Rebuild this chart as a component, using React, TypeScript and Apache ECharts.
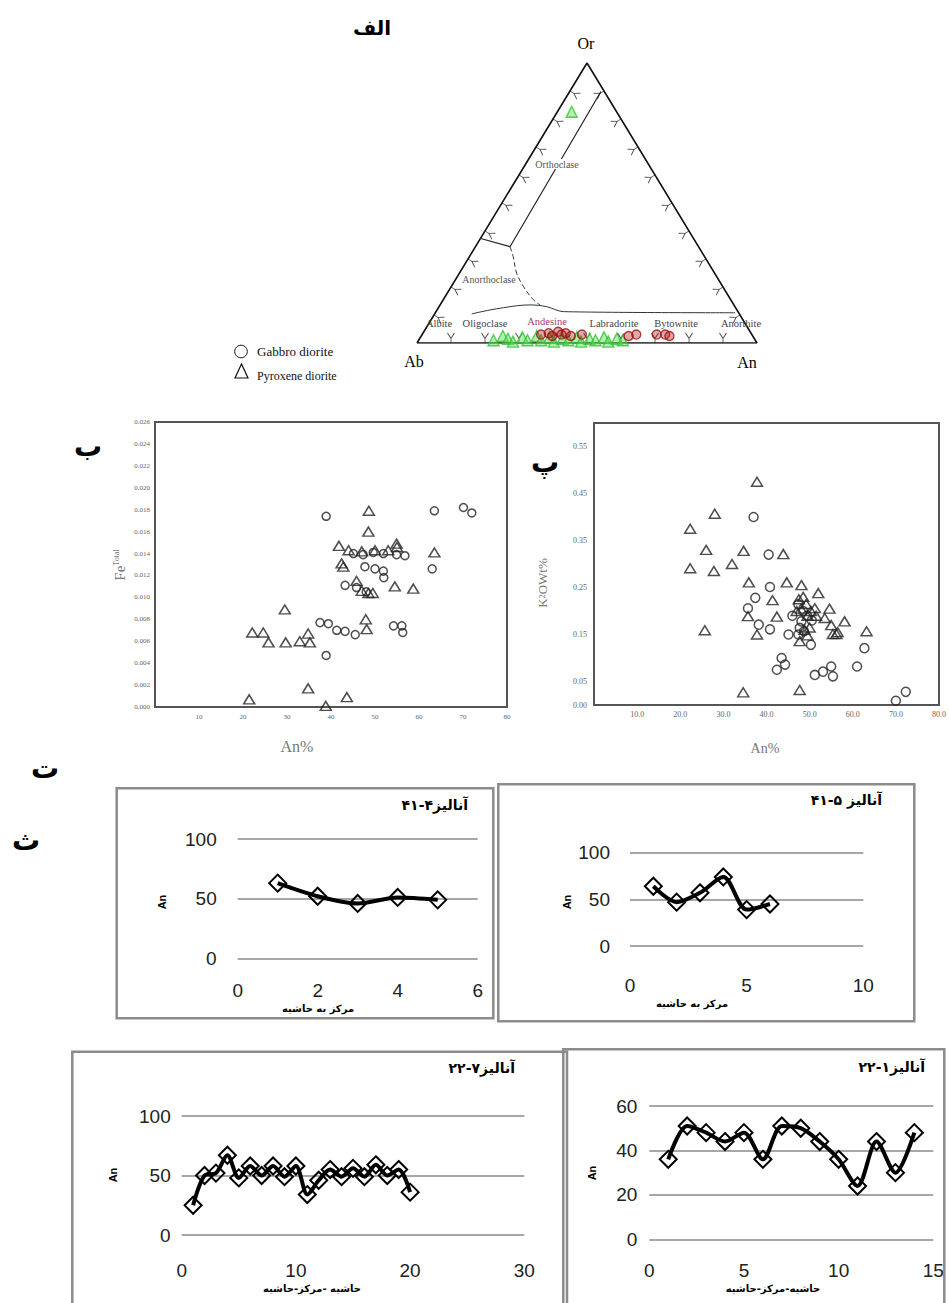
import React, { useEffect, useRef } from "react";
import * as echarts from "echarts";

// ---------- Ternary (الف) : [An%, Or%] ----------
const ternaryPyroxene: number[][] = [
  [4.2, 82.6], [22, 1], [24, 2.5], [26, 1.5], [28, 0.5], [30, 2], [32, 1], [34, 2.5],
  [36, 1], [38, 2], [40, 0.5], [42, 1.5], [44, 1], [46, 2], [48, 0.5], [50, 1.5],
  [52, 1], [54, 2], [56, 0.5], [58, 1.5], [60, 1],
];
const ternaryGabbro: number[][] = [
  [35, 3], [37, 3.5], [38.5, 2.5], [39.5, 4], [41, 3], [42, 3.5], [44, 2.5], [47, 3],
  [61, 2.5], [63, 3], [69, 3], [71.5, 3], [73, 2.5],
];
// field boundaries in (u, v) triangle coordinates
const orthoclaseBoundary = [[0.541, 0.898], [0.2735, 0.344], [0.185, 0.374]];
const anorthoclaseBoundary = [[0.2735, 0.344], [0.283, 0.308], [0.293, 0.25], [0.313, 0.202], [0.342, 0.155], [0.362, 0.136]];
const plagioclaseBoundary = [[0.161, 0.104], [0.215, 0.118], [0.293, 0.133], [0.332, 0.136], [0.381, 0.13], [0.43, 0.112], [0.935, 0.108]];
const ternaryTicks = [0.1, 0.2, 0.3, 0.4, 0.5, 0.6, 0.7, 0.8, 0.9];

// ---------- Scatter ب : [An%, FeTotal] ----------
const feGabbro: number[][] = [
  [38.9, 0.0174], [63.5, 0.0179], [70.1, 0.0182], [72.0, 0.0177], [63.0, 0.0126],
  [45.1, 0.014], [47.3, 0.0139], [49.6, 0.0141], [51.9, 0.014], [54.9, 0.0139], [56.8, 0.0138],
  [47.7, 0.0128], [50.0, 0.0126], [51.9, 0.0124], [52.0, 0.0118],
  [43.2, 0.0111], [45.8, 0.0109], [48.0, 0.0105],
  [37.5, 0.0077], [39.4, 0.0076], [41.3, 0.007], [43.2, 0.0069], [45.5, 0.0066],
  [54.2, 0.0074], [56.1, 0.0074], [56.3, 0.0068], [38.9, 0.0047],
];
const fePyroxene: number[][] = [
  [48.6, 0.0179], [48.5, 0.016], [41.8, 0.0147], [54.9, 0.0149], [42.4, 0.0131], [42.8, 0.0128],
  [63.5, 0.0141], [54.5, 0.011], [58.7, 0.0108], [45.8, 0.0115], [47.0, 0.0106], [48.5, 0.0104],
  [49.5, 0.0104], [29.5, 0.0089], [22.1, 0.0068], [24.6, 0.0068], [25.8, 0.0059], [29.7, 0.0059],
  [32.9, 0.006], [34.8, 0.0067], [35.2, 0.0059], [47.9, 0.008], [48.1, 0.0071], [21.4, 0.0007],
  [34.8, 0.0017], [43.6, 0.0009], [38.8, 0.0001], [44, 0.0143], [47, 0.0142], [50, 0.0143],
  [53, 0.0143], [55, 0.0146],
];

// ---------- Scatter پ : [An%, K2O Wt%] ----------
const kPyroxene: number[][] = [
  [37.8, 0.475], [28.0, 0.407], [22.3, 0.375], [26.0, 0.33], [34.7, 0.328], [43.9, 0.321],
  [22.3, 0.291], [27.8, 0.285], [32.0, 0.3], [35.9, 0.261], [44.7, 0.261], [48.1, 0.255],
  [52.0, 0.238], [41.4, 0.223], [54.6, 0.205], [35.7, 0.189], [42.4, 0.188], [58.1, 0.178],
  [63.2, 0.157], [25.7, 0.159], [37.8, 0.15], [55.4, 0.151], [56.2, 0.151], [51.2, 0.206],
  [51.5, 0.19], [47.7, 0.136], [34.6, 0.027], [47.7, 0.032], [47.5, 0.225], [48.5, 0.23],
  [49.2, 0.215], [48, 0.205], [49.5, 0.19], [50.3, 0.2], [47, 0.2], [50, 0.165], [48.8, 0.16],
  [49.5, 0.148], [53.5, 0.185], [55, 0.17], [56.5, 0.155],
];
const kGabbro: number[][] = [
  [37.0, 0.4], [40.5, 0.32], [40.8, 0.251], [37.4, 0.228], [35.7, 0.206], [38.2, 0.171],
  [40.8, 0.161], [45.1, 0.15], [47.4, 0.15], [50.3, 0.128], [62.7, 0.121], [43.5, 0.1],
  [44.3, 0.086], [42.4, 0.075], [51.2, 0.064], [53.1, 0.071], [55.0, 0.082], [55.4, 0.061],
  [61.0, 0.082], [70.0, 0.009], [72.3, 0.028], [47.4, 0.214], [48.5, 0.2], [49.4, 0.19],
  [48.1, 0.178], [47.7, 0.164], [48.7, 0.157], [50.5, 0.18], [46, 0.19],
];

// ---------- Line charts : An along traverse ----------
const an41_4 = [63, 52, 46, 51, 49];
const an41_5 = [64, 47, 57, 74, 39, 45];
const an22_7 = [25, 50, 52, 67, 48, 58, 50, 58, 49, 58, 34, 46, 55, 49, 56, 49, 59, 50, 55, 36];
const an22_1 = [36, 51, 48, 44, 48, 36, 51, 50, 44, 36, 24, 44, 30, 48];

const FA = '"DejaVu Sans", sans-serif';
const SERIF = '"Liberation Serif", "DejaVu Serif", serif';
const SANS = '"Liberation Sans", Arial, sans-serif';

const tern = (p: number[]) => [p[0] / 100 + p[1] / 200, p[1] / 100];

function txt(x: number, y: number, text: string, size: number, opts: any = {}) {
  return {
    type: "text",
    x,
    y,
    rotation: opts.rotation || 0,
    z: 50,
    style: {
      text,
      fontSize: size,
      fontFamily: opts.family || FA,
      fontWeight: opts.weight || "normal",
      fill: opts.color || "#000",
      align: opts.align || "center",
      verticalAlign: "middle",
      backgroundColor: opts.bg,
      rich: opts.rich,
    },
  };
}

export default function App() {
  const ref = useRef<HTMLDivElement>(null);
  useEffect(() => {
    if (!ref.current) return;
    const chart = echarts.init(ref.current, undefined, { renderer: "svg" });

    const lineGrids = [
      { left: 237.7, top: 839, width: 240, height: 119.3 },
      { left: 630, top: 852.7, width: 233.3, height: 93.3 },
      { left: 181.7, top: 1116, width: 342.6, height: 119 },
      { left: 649.3, top: 1106, width: 284, height: 133.3 },
    ];
    const lineSpecs = [
      { data: an41_4, xmax: 6, xint: 2, ymax: 100, yint: 50, xm: 23, ym: 21 },
      { data: an41_5, xmax: 10, xint: 5, ymax: 100, yint: 50, xm: 30, ym: 20 },
      { data: an22_7, xmax: 30, xint: 10, ymax: 100, yint: 50, xm: 26, ym: 11 },
      { data: an22_1, xmax: 15, xint: 5, ymax: 60, yint: 20, xm: 22, ym: 12 },
    ];

    const grid: any[] = [
      { left: 417, top: 63, width: 340, height: 280 },
      { left: 155, top: 422, width: 352, height: 285, show: true, borderColor: "#555", borderWidth: 2 },
      { left: 594, top: 423, width: 347, height: 282, show: true, borderColor: "#555", borderWidth: 2 },
      ...lineGrids,
    ];

    const xAxis: any[] = [
      { gridIndex: 0, type: "value", min: 0, max: 1, show: false },
      {
        gridIndex: 1, type: "value", min: 0, max: 80, interval: 10,
        axisLine: { show: false }, axisTick: { show: false }, splitLine: { show: false },
        axisLabel: { fontSize: 7, color: "#666", margin: 6, fontFamily: SERIF, formatter: (v: number) => (v === 0 ? "" : String(v)) },
      },
      {
        gridIndex: 2, type: "value", min: 0, max: 80, interval: 10,
        axisLine: { show: false }, axisTick: { show: false }, splitLine: { show: false },
        axisLabel: { fontSize: 8, color: "#666", margin: 5, fontFamily: SERIF, formatter: (v: number) => (v === 0 ? "" : v.toFixed(1)) },
      },
      ...lineSpecs.map((s, i) => ({
        gridIndex: 3 + i, type: "value", min: 0, max: s.xmax, interval: s.xint,
        axisLine: { show: false }, axisTick: { show: false }, splitLine: { show: false },
        axisLabel: { fontSize: 19, color: "#222", margin: s.xm, fontFamily: SANS },
      })),
    ];
    const yAxis: any[] = [
      { gridIndex: 0, type: "value", min: 0, max: 1, show: false },
      {
        gridIndex: 1, type: "value", min: 0, max: 0.026, interval: 0.002,
        axisLine: { show: false }, axisTick: { show: false }, splitLine: { show: false },
        axisLabel: { fontSize: 7, color: "#666", margin: 5, fontFamily: SERIF, formatter: (v: number) => v.toFixed(3) },
      },
      {
        gridIndex: 2, type: "value", min: 0, max: 0.6, interval: 0.05,
        axisLine: { show: false }, axisTick: { show: false }, splitLine: { show: false },
        axisLabel: {
          fontSize: 8, color: "#666", margin: 7, fontFamily: SERIF,
          formatter: (v: number) => {
            const k = Math.round(v / 0.05);
            return k === 0 || k % 2 === 1 ? v.toFixed(2) : "";
          },
        },
      },
      ...lineSpecs.map((s, i) => ({
        gridIndex: 3 + i, type: "value", min: 0, max: s.ymax, interval: s.yint,
        axisLine: { show: false }, axisTick: { show: false },
        splitLine: { show: true, lineStyle: { color: "#8a8a8a", width: 1.6 } },
        axisLabel: { fontSize: 19, color: "#222", margin: s.ym, fontFamily: SANS },
      })),
    ];

    const tickSym = "path://M0,0 L4,6 L8,0 M4,6 L4,11";
    const tickData: any[] = [];
    ternaryTicks.forEach((t) => {
      tickData.push({ value: [t, 0], symbolRotate: 0, symbolOffset: [0, -5] });
      tickData.push({ value: [t / 2, t], symbolRotate: -121.3, symbolOffset: [4.3, 2.6] });
      tickData.push({ value: [1 - t / 2, t], symbolRotate: 121.3, symbolOffset: [-4.3, 2.6] });
    });

    const hollow = { color: "rgba(255,255,255,0)", borderColor: "#222", borderWidth: 1.5 };

    const series: any[] = [
      {
        type: "line", xAxisIndex: 0, yAxisIndex: 0, data: [[0, 0], [0.5, 1], [1, 0], [0, 0]],
        symbol: "none", lineStyle: { color: "#111", width: 1.6 }, silent: true,
      },
      {
        type: "line", xAxisIndex: 0, yAxisIndex: 0, data: orthoclaseBoundary,
        symbol: "none", lineStyle: { color: "#222", width: 1.2 },
      },
      {
        type: "line", xAxisIndex: 0, yAxisIndex: 0, data: anorthoclaseBoundary, smooth: 0.4,
        symbol: "none", lineStyle: { color: "#333", width: 1, type: [5, 3] },
      },
      {
        type: "line", xAxisIndex: 0, yAxisIndex: 0, data: plagioclaseBoundary, smooth: 0.3,
        symbol: "none", lineStyle: { color: "#333", width: 1 },
      },
      {
        type: "scatter", xAxisIndex: 0, yAxisIndex: 0, data: tickData, symbol: tickSym, symbolSize: [7, 10],
        itemStyle: { color: "none", borderColor: "#222", borderWidth: 1 }, z: 3,
      },
      {
        type: "scatter", xAxisIndex: 0, yAxisIndex: 0, data: ternaryPyroxene.map(tern), symbol: "triangle", symbolSize: 11,
        itemStyle: { color: "rgba(90,225,90,0.6)", borderColor: "#33c033", borderWidth: 1.4 }, z: 4,
      },
      {
        type: "scatter", xAxisIndex: 0, yAxisIndex: 0, data: ternaryGabbro.map(tern), symbol: "circle", symbolSize: 9,
        itemStyle: { color: "rgba(170,20,20,0.45)", borderColor: "#991111", borderWidth: 1.4 }, z: 5,
      },
      {
        type: "scatter", xAxisIndex: 1, yAxisIndex: 1, data: feGabbro, symbol: "circle", symbolSize: 8, itemStyle: hollow,
      },
      {
        type: "scatter", xAxisIndex: 1, yAxisIndex: 1, data: fePyroxene, symbol: "triangle", symbolSize: [11, 9], itemStyle: hollow,
      },
      {
        type: "scatter", xAxisIndex: 2, yAxisIndex: 2, data: kGabbro, symbol: "circle", symbolSize: 9, itemStyle: hollow,
      },
      {
        type: "scatter", xAxisIndex: 2, yAxisIndex: 2, data: kPyroxene, symbol: "triangle", symbolSize: [11, 9], itemStyle: hollow,
      },
      ...lineSpecs.map((s, i) => ({
        type: "line", xAxisIndex: 3 + i, yAxisIndex: 3 + i,
        data: s.data.map((v, k) => [k + 1, v]),
        smooth: 0.3, symbol: "diamond", symbolSize: 17,
        lineStyle: { color: "#000", width: 4 },
        itemStyle: { color: "rgba(255,255,255,0)", borderColor: "#000", borderWidth: 2 },
      })),
    ];

    const boxStyle = { fill: "none", stroke: "#8c8c8c", lineWidth: 2.5 };
    const graphic: any[] = [
      { type: "rect", shape: { x: 116.7, y: 788.3, width: 376.6, height: 230 }, style: boxStyle, z: 1 },
      { type: "rect", shape: { x: 498.3, y: 784.3, width: 416, height: 237 }, style: boxStyle, z: 1 },
      { type: "rect", shape: { x: 72.3, y: 1051.7, width: 494.7, height: 270 }, style: boxStyle, z: 1 },
      { type: "rect", shape: { x: 563.3, y: 1049.3, width: 381, height: 270 }, style: boxStyle, z: 1 },
      // panel letters
      txt(372, 28, "الف", 20, { weight: "bold" }),
      txt(88, 446, "ب", 28, { weight: "bold" }),
      txt(545, 462, "پ", 28, { weight: "bold" }),
      txt(45, 768, "ت", 28, { weight: "bold" }),
      txt(26, 840, "ث", 28, { weight: "bold" }),
      // ternary labels
      txt(586, 43, "Or", 16, { family: SERIF }),
      txt(414, 361, "Ab", 16, { family: SERIF }),
      txt(747, 362, "An", 16, { family: SERIF }),
      txt(557, 164, "Orthoclase", 10, { family: SERIF, color: "#555", bg: "#fff" }),
      txt(489, 279, "Anorthoclase", 10, { family: SERIF, color: "#555" }),
      txt(439, 323, "Albite", 10.5, { family: SERIF, color: "#444" }),
      txt(485, 323, "Oligoclase", 10.5, { family: SERIF, color: "#444" }),
      txt(547, 321, "Andesine", 10.5, { family: SERIF, color: "#a04070" }),
      txt(614, 323, "Labradorite", 10.5, { family: SERIF, color: "#444" }),
      txt(676, 323, "Bytownite", 10.5, { family: SERIF, color: "#444" }),
      txt(741, 323, "Anorthite", 10.5, { family: SERIF, color: "#444" }),
      // legend
      { type: "circle", shape: { cx: 241, cy: 351.5, r: 6.3 }, style: { fill: "#fff", stroke: "#111", lineWidth: 1 }, z: 50 },
      { type: "polygon", shape: { points: [[241.5, 364], [235, 378], [248, 378]] }, style: { fill: "#fff", stroke: "#111", lineWidth: 1.2 }, z: 50 },
      txt(257, 351.5, "Gabbro diorite", 13, { family: SERIF, align: "left", color: "#111" }),
      txt(257, 376, "Pyroxene diorite", 12, { family: SERIF, align: "left", color: "#111" }),
      // scatter axis names
      txt(120, 565, "{a|Fe}{b|Total}", 14, {
        rotation: Math.PI / 2, family: SERIF, color: "#777",
        rich: { a: { fontSize: 15, fontFamily: SERIF, fill: "#777" }, b: { fontSize: 8, fontFamily: SERIF, fill: "#777", padding: [0, 0, 8, 0] } },
      }),
      txt(297, 746, "An%", 16, { family: SERIF, color: "#777" }),
      txt(542, 583, "{a|K}{b|2}{a|OWt%}", 13, {
        rotation: Math.PI / 2, family: SERIF, color: "#777",
        rich: { a: { fontSize: 13, fontFamily: SERIF, fill: "#777" }, b: { fontSize: 8, fontFamily: SERIF, fill: "#777" } },
      }),
      txt(765, 748, "An%", 14, { family: SERIF, color: "#777" }),
      // line chart titles
      txt(468, 805, "آنالیز۴-۴۱", 14, { align: "right", weight: "bold" }),
      txt(882, 800, "آنالیز ۵-۴۱", 14, { align: "right", weight: "bold" }),
      txt(515, 1068, "آنالیز۷-۲۲", 14, { align: "right", weight: "bold" }),
      txt(925, 1067, "آنالیز۱-۲۲", 14, { align: "right", weight: "bold" }),
      // y titles
      txt(162, 902, "An", 11, { rotation: Math.PI / 2, family: SANS, weight: "bold" }),
      txt(567, 902, "An", 11, { rotation: Math.PI / 2, family: SANS, weight: "bold" }),
      txt(113, 1175, "An", 11, { rotation: Math.PI / 2, family: SANS, weight: "bold" }),
      txt(592, 1173, "An", 11, { rotation: Math.PI / 2, family: SANS, weight: "bold" }),
      // x titles
      txt(318, 1008, "مرکز به حاشیه", 10, { weight: "bold" }),
      txt(692, 1003, "مرکز به حاشیه", 10, { weight: "bold" }),
      txt(312, 1288, "حاشیه -مرکز-حاشیه", 10, { weight: "bold" }),
      txt(773, 1288, "حاشیه-مرکز-حاشیه", 10, { weight: "bold" }),
    ];

    chart.setOption({
      animation: false,
      backgroundColor: "#fff",
      grid,
      xAxis,
      yAxis,
      series,
      graphic,
    });
    return () => chart.dispose();
  }, []);
  return <div ref={ref} style={{ position: "absolute", left: 0, top: 0, width: 949, height: 1303 }} />;
}
